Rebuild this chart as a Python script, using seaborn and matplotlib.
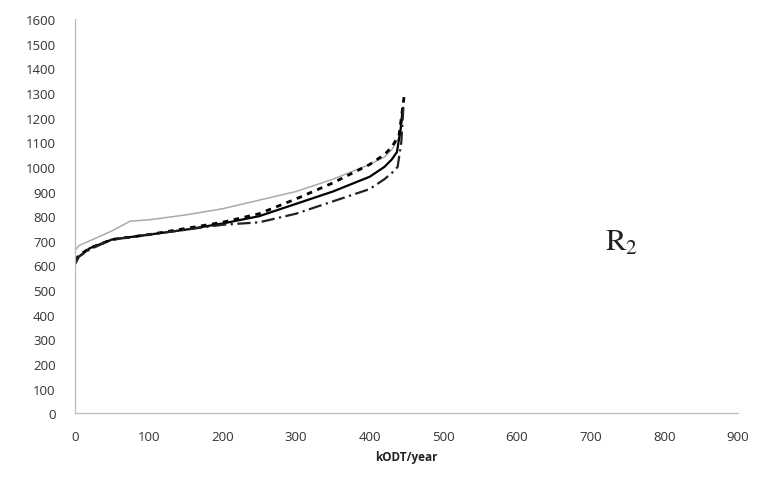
import pandas as pd
import matplotlib.pyplot as plt
import seaborn as sns

# kODT/year positions
x_gray = [0, 5, 20, 50, 75, 100, 150, 200, 250, 300, 350, 400, 420, 430, 440, 445]
y_gray = [660, 680, 700, 740, 780, 785, 805, 830, 865, 900, 950, 1010, 1040, 1070, 1120, 1200]

x_dot = [0, 5, 20, 50, 100, 150, 200, 250, 300, 350, 400, 420, 430, 440, 447]
y_dot = [620, 640, 670, 705, 725, 750, 775, 810, 870, 935, 1010, 1050, 1080, 1130, 1290]

x_solid = [0, 5, 20, 50, 100, 150, 200, 250, 300, 350, 400, 420, 430, 437, 442, 445]
y_solid = [605, 635, 670, 705, 725, 745, 770, 800, 850, 900, 960, 1000, 1030, 1060, 1150, 1240]

x_dashdot = [0, 5, 20, 50, 100, 150, 200, 250, 300, 350, 400, 420, 430, 438, 443, 446]
y_dashdot = [610, 635, 665, 705, 725, 745, 765, 775, 810, 860, 910, 950, 975, 1000, 1100, 1250]

x_ticks = [0, 100, 200, 300, 400, 500, 600, 700, 800, 900]
y_ticks = list(range(0, 1700, 100))

sns.set_style("white")
plt.rcParams['font.family'] = ['Open Sans', 'DejaVu Sans']
plt.rcParams['mathtext.fontset'] = 'stix'

fig = plt.figure(figsize=(7.61, 4.81), dpi=100)
ax = fig.add_axes([0.0986, 0.139, 0.871, 0.819])

sns.lineplot(x=x_gray, y=y_gray, ax=ax, color="#aaaaaa", lw=1.1, sort=False)
sns.lineplot(x=x_dot, y=y_dot, ax=ax, color="black", lw=2.0, linestyle=(0, (2, 2)), sort=False)
sns.lineplot(x=x_solid, y=y_solid, ax=ax, color="black", lw=1.6, sort=False)
sns.lineplot(x=x_dashdot, y=y_dashdot, ax=ax, color="#222222", lw=1.6,
             linestyle=(0, (6, 2, 1, 2)), sort=False)

ax.set_xlim(0, 900)
ax.set_ylim(0, 1600)
ax.set_xticks(x_ticks)
ax.set_yticks(y_ticks)
ax.tick_params(axis='both', labelsize=9.5, colors="#aaaaaa", labelcolor="#333333",
               length=4, width=0.8, direction='out')
ax.tick_params(axis='y', pad=10)
ax.tick_params(axis='x', pad=8)
for s in ['top', 'right']:
    ax.spines[s].set_visible(False)
for s in ['left', 'bottom']:
    ax.spines[s].set_color("#bbbbbb")
    ax.spines[s].set_linewidth(0.9)

ax.set_xlabel("kODT/year", fontsize=8.5, fontweight='bold', color="#222222", labelpad=5)
ax.set_ylabel("")

ax.text(0.80, 0.415, r"$\mathrm{R_2}$", transform=ax.transAxes, fontsize=22, color="#222222")

fig.savefig("out.png", dpi=100, facecolor="white")
